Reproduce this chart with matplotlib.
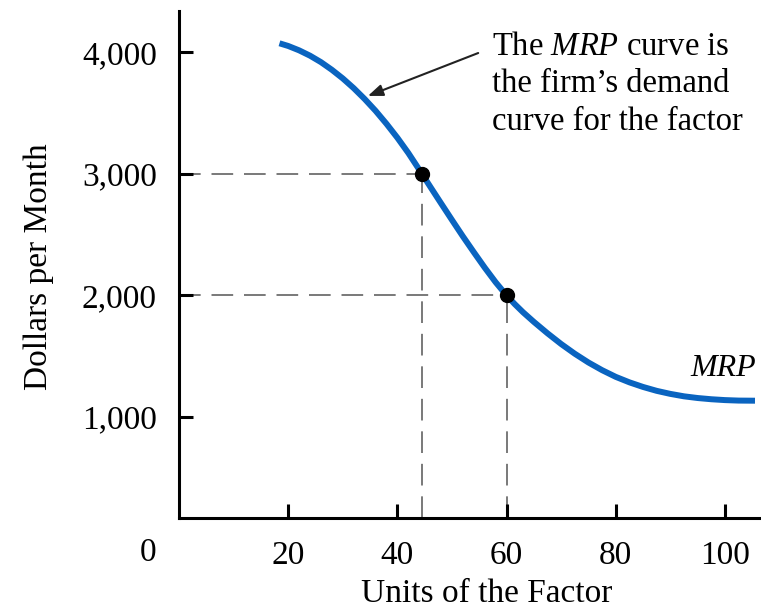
import matplotlib
matplotlib.use("Agg")
import matplotlib.pyplot as plt

plt.rcParams["font.family"] = ["Liberation Serif", "DejaVu Serif"]
plt.rcParams["mathtext.fontset"] = "custom"
plt.rcParams["mathtext.rm"] = "Liberation Serif"
plt.rcParams["mathtext.it"] = "Liberation Serif:italic"

# MRP curve (units, dollars per month)
mrp_x = [18.4, 20, 22, 24, 26, 28, 30, 32, 34, 36, 38, 40, 42, 44.5,
         46, 48, 50, 52, 54, 56, 58, 60, 61.5, 63, 65, 67.5, 70, 72.5,
         75, 77.5, 80, 82.5, 85, 87.5, 90, 92.5, 95, 97.5, 100, 102.5, 105.5]
mrp_y = [4073, 4051, 4015, 3971, 3918, 3855, 3784, 3704, 3615, 3518, 3411,
         3296, 3171, 3000, 2895, 2757, 2620, 2485, 2355, 2228, 2108, 2000,
         1928, 1862, 1782, 1688, 1600, 1520, 1448, 1385, 1330, 1285, 1247,
         1215, 1190, 1170, 1156, 1146, 1139, 1135, 1134]

# highlighted points
pts_x = [44.5, 60]
pts_y = [3000, 2000]

x_ticks = [20, 40, 60, 80, 100]
y_ticks = [1000, 2000, 3000, 4000]
y_tick_labels = ["1,000", "2,000", "3,000", "4,000"]

W, H = 761, 611
fig = plt.figure(figsize=(W / 100, H / 100), dpi=100)
ax = fig.add_axes([179 / W, 1 - 518.3 / H, 1 - 179 / W, (518.3 - 10.7) / H])
ax.set_xlim(0, 106.6)
ax.set_ylim(167, 4341)

for s in ["top", "right"]:
    ax.spines[s].set_visible(False)
for s in ["left", "bottom"]:
    ax.spines[s].set_linewidth(2.2)

ax.set_xticks(x_ticks)
ax.set_yticks(y_ticks)
ax.set_yticklabels(y_tick_labels)
ax.tick_params(axis="both", direction="in", length=10, width=2.2, labelsize=24)
ax.tick_params(axis="x", pad=16)
ax.tick_params(axis="y", pad=16)

# dashed guides
for px, py in zip(pts_x, pts_y):
    ax.plot([0, px], [py, py], color="#6e6e6e", lw=1.3, ls=(0, (12, 6)), zorder=1)
    ax.plot([px, px], [167, py], color="#6e6e6e", lw=1.3, ls=(0, (12, 6)), zorder=1)

ax.plot(mrp_x, mrp_y, color="#0a64c0", lw=4.3, solid_capstyle="butt", zorder=2)
ax.plot(pts_x, pts_y, "o", color="black", ms=10, zorder=3)

ax.text(93.6, 1337, "MRP", fontsize=23, style="italic", va="baseline")

ax.annotate("", xy=(34.6, 3640), xytext=(54.8, 3993),
            arrowprops=dict(arrowstyle="-|>,head_length=0.9,head_width=0.35",
                            color="#222222", lw=1.5, shrinkA=0, shrinkB=0))

lines = ["The $\\mathit{MRP}$ curve is", "the firm\u2019s demand", "curve for the factor"]
for i, t in enumerate(lines):
    fig.text(492 / W, 1 - (55 + 37.5 * i) / H, t, fontsize=23.5, va="baseline", ha="left")

fig.text(156 / W, 1 - 553 / H, "0", fontsize=24, ha="right", va="center")
fig.text(487 / W, 1 - 594 / H, "Units of the Factor", fontsize=24, ha="center", va="center")
fig.text(39 / W, 1 - 267 / H, "Dollars per Month", fontsize=24, rotation=90,
         ha="center", va="center")

fig.savefig("out.png", dpi=100)
